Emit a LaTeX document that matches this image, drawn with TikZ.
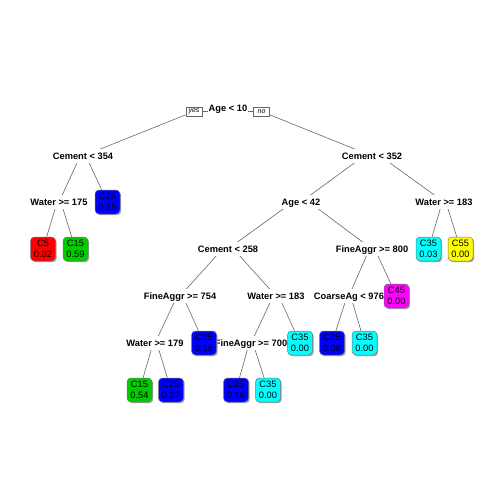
\documentclass[tikz,border=0pt]{standalone}
\usepackage{fontspec}
\setmainfont{Liberation Sans}
\usetikzlibrary{shadows,backgrounds}
\definecolor{lgreen}{HTML}{00CD00}
\definecolor{lred}{HTML}{FF0000}
\definecolor{lblue}{HTML}{0000FF}
\definecolor{lcyan}{HTML}{00FFFF}
\definecolor{lmagenta}{HTML}{FF00FF}
\definecolor{lyellow}{HTML}{FFFF00}
\begin{document}
\begin{tikzpicture}[x=1pt,y=-1pt,
  split/.style={fill=white, font=\bfseries\fontsize{9.3}{11}\selectfont, text height=6.7pt, text depth=0pt, inner xsep=1pt, inner ysep=3.2pt},
  leaf/.style={draw=black!55, line width=0.5pt, rounded corners=4pt, minimum width=25pt, minimum height=24pt, inner sep=0pt, align=center, font=\fontsize{9.3}{11.5}\selectfont, drop shadow={shadow xshift=1.2pt, shadow yshift=-1.2pt, fill=black!35, opacity=1}},
  yn/.style={draw=black!60, line width=0.5pt, font=\itshape\fontsize{7}{8}\selectfont, inner xsep=1.5pt, inner ysep=1pt, minimum width=16pt, minimum height=9pt, fill=white},
  br/.style={draw=black!60, line width=0.6pt}]
\useasboundingbox (0,0) rectangle (504,504);
% split labels
\node[split] (root) at (228,108) {Age < 10};
\node[yn] (yes) at (194,111.5) {yes};
\node[yn] (no) at (261.5,111.5) {no};
\node[split] (c354) at (83,156) {Cement < 354};
\node[split] (c352) at (372,156) {Cement < 352};
\node[split] (w175) at (59,202) {Water >= 175};
\node[split] (a42) at (301,202) {Age < 42};
\node[split] (w183r) at (444,202) {Water >= 183};
\node[split] (c258) at (228,249) {Cement < 258};
\node[split] (f800) at (372,249) {FineAggr >= 800};
\node[split] (f754) at (180,296) {FineAggr >= 754};
\node[split] (w183m) at (276,296) {Water >= 183};
\node[split] (ca976) at (349,296) {CoarseAg < 976};
\node[split] (w179) at (155,343) {Water >= 179};
\node[split] (f700) at (251,343) {FineAggr >= 700};
% leaves
\node[leaf, fill=lblue] (l1) at (107.5,202) {C25\\0.15};
\node[leaf, fill=lred] (l2) at (43,249) {C5\\0.32};
\node[leaf, fill=lgreen] (l3) at (75.5,249) {C15\\0.59};
\node[leaf, fill=lcyan] (l4) at (428.5,249) {C35\\0.03};
\node[leaf, fill=lyellow] (l5) at (460.5,249) {C55\\0.00};
\node[leaf, fill=lmagenta] (l6) at (396.5,296) {C45\\0.00};
\node[leaf, fill=lblue] (l7) at (204,343) {C25\\0.15};
\node[leaf, fill=lcyan] (l8) at (300,343) {C35\\0.00};
\node[leaf, fill=lblue] (l9) at (332,343) {C25\\0.08};
\node[leaf, fill=lcyan] (l10) at (364.5,343) {C35\\0.00};
\node[leaf, fill=lgreen] (l11) at (139.5,390) {C15\\0.54};
\node[leaf, fill=lblue] (l12) at (171,390) {C25\\0.27};
\node[leaf, fill=lblue] (l13) at (236,390) {C25\\0.16};
\node[leaf, fill=lcyan] (l14) at (268,390) {C35\\0.00};
% branches
\begin{scope}[on background layer]
\draw[br] (yes.east) -- (yes.east -| root.west);
\draw[br] (no.west) -- (no.west -| root.east);
\draw[br] (yes) -- (c354);
\draw[br] (no) -- (c352);
\draw[br] ([yshift=6pt]c354.center) -- (w175);
\draw[br] ([yshift=6pt]c354.center) -- (l1);
\draw[br] ([yshift=6pt]w175.center) -- (l2);
\draw[br] ([yshift=6pt]w175.center) -- (l3);
\draw[br] ([yshift=6pt]c352.center) -- (a42);
\draw[br] ([yshift=6pt]c352.center) -- (w183r);
\draw[br] ([yshift=6pt]w183r.center) -- (l4);
\draw[br] ([yshift=6pt]w183r.center) -- (l5);
\draw[br] ([yshift=6pt]a42.center) -- (c258);
\draw[br] ([yshift=6pt]a42.center) -- (f800);
\draw[br] ([yshift=6pt]c258.center) -- (f754);
\draw[br] ([yshift=6pt]c258.center) -- (w183m);
\draw[br] ([yshift=6pt]f754.center) -- (w179);
\draw[br] ([yshift=6pt]f754.center) -- (l7);
\draw[br] ([yshift=6pt]w179.center) -- (l11);
\draw[br] ([yshift=6pt]w179.center) -- (l12);
\draw[br] ([yshift=6pt]w183m.center) -- (f700);
\draw[br] ([yshift=6pt]w183m.center) -- (l8);
\draw[br] ([yshift=6pt]f700.center) -- (l13);
\draw[br] ([yshift=6pt]f700.center) -- (l14);
\draw[br] ([yshift=6pt]f800.center) -- (ca976);
\draw[br] ([yshift=6pt]f800.center) -- (l6);
\draw[br] ([yshift=6pt]ca976.center) -- (l9);
\draw[br] ([yshift=6pt]ca976.center) -- (l10);
\end{scope}
\end{tikzpicture}
\end{document}
